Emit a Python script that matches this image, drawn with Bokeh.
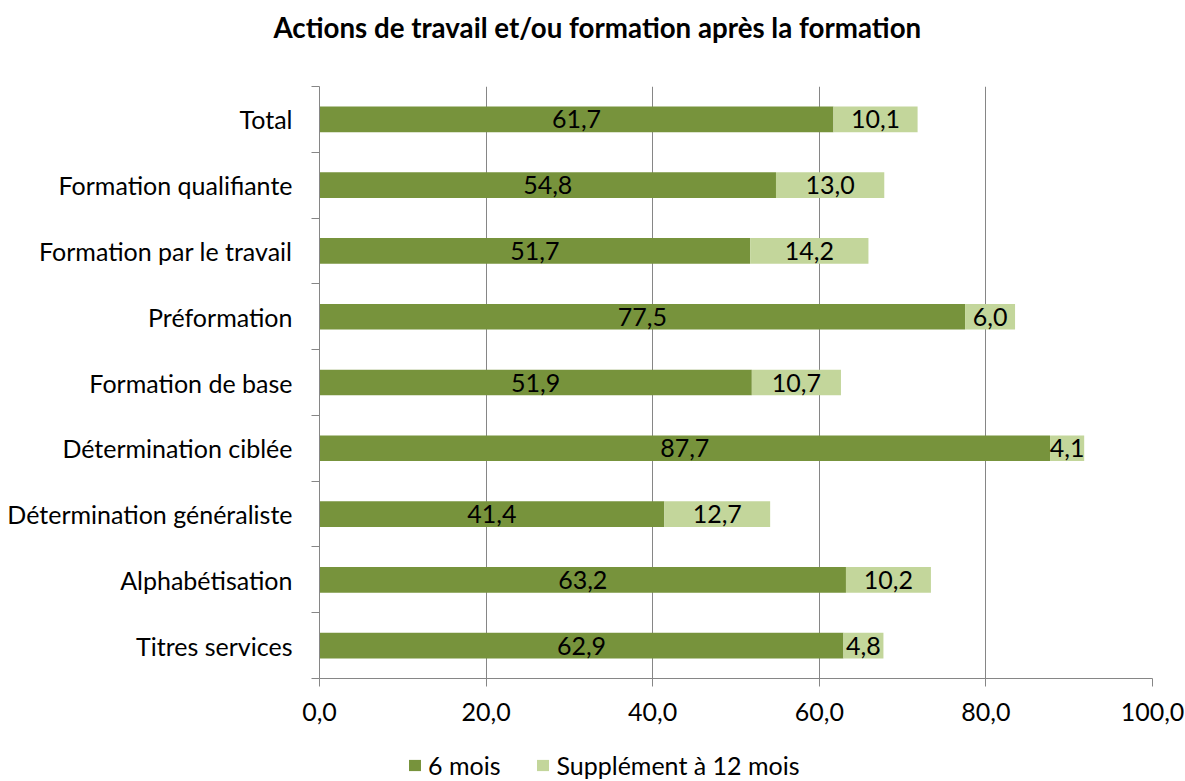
from bokeh.plotting import figure
from bokeh.layouts import column
from bokeh.models import Range1d, FixedTicker, ColumnDataSource, Legend, LegendItem, Title
from bokeh.core.properties import value
from bokeh.embed import file_html
from bokeh.resources import INLINE

# ---- data ----
categories = ["Total", "Formation qualifiante", "Formation par le travail", "Préformation",
              "Formation de base", "Détermination ciblée", "Détermination généraliste",
              "Alphabétisation", "Titres services"]
six_mois = [61.7, 54.8, 51.7, 77.5, 51.9, 87.7, 41.4, 63.2, 62.9]
supplement_12_mois = [10.1, 13.0, 14.2, 6.0, 10.7, 4.1, 12.7, 10.2, 4.8]
series_names = ["6 mois", "Supplément à 12 mois"]
x_ticks = [0, 20, 40, 60, 80, 100]
x_tick_labels = ["0,0", "20,0", "40,0", "60,0", "80,0", "100,0"]
title_text = "Actions de travail et/ou formation après la formation"

# ---- style ----
FONT = "Lato"
DARK = "#77933C"
LIGHT = "#C3D69B"
GRID = "#868686"
FS = "25px"

n = len(categories)
ypos = [n - 1 - i for i in range(n)]


def fr(v):
    return f"{v:.1f}".replace(".", ",")


src = ColumnDataSource(dict(
    y=ypos,
    a=six_mois,
    b_end=[a + b for a, b in zip(six_mois, supplement_12_mois)],
    a_mid=[a / 2 for a in six_mois],
    b_mid=[a + b / 2 for a, b in zip(six_mois, supplement_12_mois)],
    a_lab=[fr(v) for v in six_mois],
    b_lab=[fr(v) for v in supplement_12_mois],
))

MAIN_H = 740
p = figure(width=1185, height=MAIN_H, x_range=Range1d(0, 100), y_range=Range1d(-0.5, n - 0.5),
           output_backend="svg", toolbar_location=None,
           min_border_left=319, min_border_right=33, min_border_top=86,
           min_border_bottom=MAIN_H - 678)
p.outline_line_color = None
p.background_fill_color = "white"
p.border_fill_color = "white"

r1 = p.hbar(y="y", left=0, right="a", height=0.39, source=src, fill_color=DARK, line_color=None)
r2 = p.hbar(y="y", left="a", right="b_end", height=0.39, source=src, fill_color=LIGHT, line_color=None)

p.text(x="a_mid", y="y", text="a_lab", source=src, text_align="center", text_baseline="middle",
       text_font=value(FONT), text_font_size=FS, text_color="black")
p.text(x="b_mid", y="y", text="b_lab", source=src, text_align="center", text_baseline="middle",
       text_font=value(FONT), text_font_size=FS, text_color="black")

# grid
p.ygrid.grid_line_color = None
p.xgrid.grid_line_color = GRID
p.xgrid.grid_line_width = 1
p.xgrid.ticker = FixedTicker(ticks=x_ticks)

# x axis
xa = p.xaxis[0]
xa.ticker = FixedTicker(ticks=x_ticks)
xa.major_label_overrides = {t: l for t, l in zip(x_ticks, x_tick_labels)}
xa.axis_line_color = GRID
xa.major_tick_line_color = GRID
xa.major_tick_in = 0
xa.major_tick_out = 8
xa.minor_tick_line_color = None
xa.major_label_standoff = 16
xa.major_label_text_font = FONT
xa.major_label_text_font_size = FS
xa.major_label_text_color = "black"

# y axis
ya = p.yaxis[0]
ya.ticker = FixedTicker(ticks=ypos, minor_ticks=[k - 0.5 for k in range(n + 1)])
ya.major_label_overrides = {y: c for y, c in zip(ypos, categories)}
ya.axis_line_color = GRID
ya.major_tick_in = 0
ya.major_tick_out = 0
ya.major_tick_line_color = None
ya.minor_tick_line_color = GRID
ya.minor_tick_in = 0
ya.minor_tick_out = 8
ya.major_label_standoff = 19
ya.major_label_text_font = FONT
ya.major_label_text_font_size = FS
ya.major_label_text_color = "black"

# spacer between frame and title
p.add_layout(Title(text=" ", text_font_size="10px", standoff=25), "above")

# title
p.title.text = title_text
p.title.text_font = FONT
p.title.text_font_style = "bold"
p.title.text_font_size = "27.7px"
p.title.text_color = "black"
p.title.align = "left"
p.title.offset = -46
p.title.standoff = 10

# ---- legend strip below the chart ----
LEG_H = 781 - MAIN_H
q = figure(width=1185, height=LEG_H, x_range=Range1d(0, 100), y_range=Range1d(-0.5, n - 0.5),
           output_backend="svg", toolbar_location=None, x_axis_type=None, y_axis_type=None,
           min_border_left=0, min_border_right=0, min_border_top=0, min_border_bottom=0)
q.outline_line_color = None
q.grid.visible = False
q.background_fill_color = "white"
q.border_fill_color = "white"
k1 = q.hbar(y="y", left=0, right="a", height=0.39, source=src, fill_color=DARK, line_color=None,
            visible=False)
k2 = q.hbar(y="y", left="a", right="b_end", height=0.39, source=src, fill_color=LIGHT,
            line_color=None, visible=False)

legend = Legend(items=[LegendItem(label=series_names[0], renderers=[k1]),
                       LegendItem(label=series_names[1], renderers=[k2])],
                orientation="horizontal", location=(88, 1))
legend.glyph_width = 15
legend.glyph_height = 14
legend.label_standoff = 6
legend.spacing = 35
legend.padding = 0
legend.margin = 0
legend.border_line_color = None
legend.background_fill_alpha = 0
legend.inactive_fill_alpha = 0
legend.label_text_font = FONT
legend.label_text_font_size = FS
legend.label_text_color = "black"
legend.label_height = 20
q.add_layout(legend)

open("out.html", "w").write(file_html(column(p, q, spacing=0), INLINE))
